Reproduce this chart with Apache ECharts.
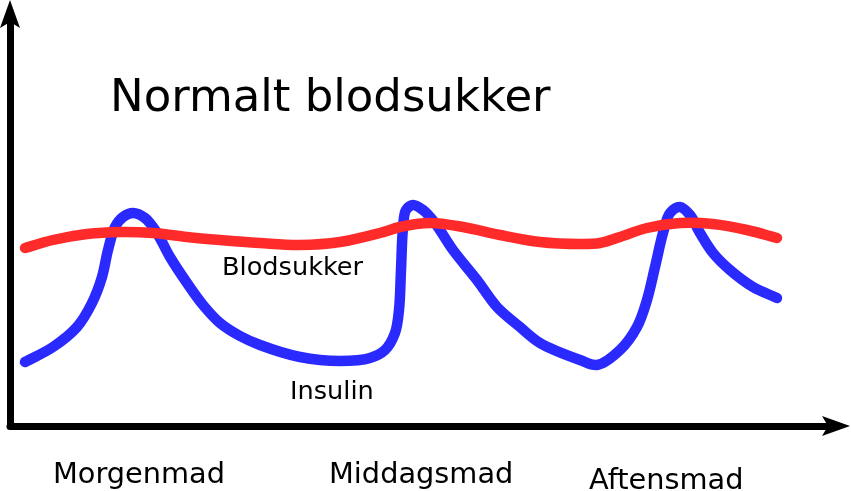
<!DOCTYPE html>
<html>
<head>
<meta charset="utf-8">
<script src="https://cdn.jsdelivr.net/npm/echarts@6/dist/echarts.min.js"></script>
<style>html,body{margin:0;padding:0;background:#fff}#c{width:851px;height:491px}</style>
</head>
<body>
<div id="c"></div>
<script>
var titleText = 'Normalt blodsukker';
var mealLabels = ['Morgenmad', 'Middagsmad', 'Aftensmad'];
var seriesNames = ['Blodsukker', 'Insulin'];

var bloodX = [1.5, 4.3, 7.7, 11.0, 14.3, 17.7, 21.0, 25.0, 29.0, 33.0, 37.0, 39.0, 42.0, 45.3, 49.0, 53.0, 57.0, 59.0, 61.0, 63.7, 67.0, 70.3, 73.7, 76.7];
var bloodY = [44.5, 46.5, 48.0, 48.5, 48.25, 47.25, 46.5, 45.75, 45.25, 46.0, 48.25, 49.75, 50.75, 49.75, 47.75, 46.0, 45.5, 45.75, 47.25, 49.5, 50.75, 50.5, 49.0, 47.0];

var insulinX = [1.5, 4.3, 6.7, 8.2, 9.2, 9.8, 10.5, 11.3, 12.3, 13.5, 14.7, 16.0, 17.7, 19.3, 21.0, 23.0, 25.0, 29.0, 33.0, 36.0, 37.5, 38.5, 38.9, 39.1, 39.3, 39.6, 40.3, 41.3, 42.5, 44.3, 46.7, 48.7, 51.0, 53.0, 57.0, 58.7, 61.0, 62.7, 63.7, 64.5, 65.3, 66.0, 67.0, 68.0, 69.0, 70.3, 72.0, 74.3, 76.7];
var insulinY = [16.0, 19.75, 24.75, 30.75, 37.25, 44.0, 49.75, 52.25, 53.25, 52.0, 48.25, 42.25, 35.75, 30.25, 25.75, 22.5, 20.25, 17.25, 16.25, 17.0, 19.0, 23.25, 29.0, 39.0, 49.5, 54.0, 55.25, 54.0, 50.75, 44.0, 36.5, 29.75, 24.75, 20.75, 16.5, 15.25, 19.0, 24.75, 31.5, 39.75, 48.25, 53.25, 54.75, 52.75, 48.25, 43.25, 39.0, 34.75, 32.0];

function pairs(xs, ys) { return xs.map(function (x, i) { return [x, ys[i]]; }); }

// centripetal Catmull-Rom through screen points -> cubic Bezier path
function splinePath(p) {
  var d = 'M' + p[0][0] + ',' + p[0][1];
  function dist(a, b) { return Math.pow(Math.hypot(a[0] - b[0], a[1] - b[1]), 0.5); }
  for (var i = 0; i < p.length - 1; i++) {
    var p0 = p[i - 1] || p[i], p1 = p[i], p2 = p[i + 1], p3 = p[i + 2] || p[i + 1];
    var d1 = dist(p0, p1), d2 = dist(p1, p2), d3 = dist(p2, p3);
    var c1 = p1.slice(), c2 = p2.slice();
    for (var k = 0; k < 2; k++) {
      if (d1 > 1e-6) c1[k] = (d1 * d1 * p2[k] - d2 * d2 * p0[k] + (2 * d1 * d1 + 3 * d1 * d2 + d2 * d2) * p1[k]) / (3 * d1 * (d1 + d2));
      else c1[k] = p1[k] + (p2[k] - p1[k]) / 3;
      if (d3 > 1e-6) c2[k] = (d3 * d3 * p1[k] - d2 * d2 * p3[k] + (2 * d3 * d3 + 3 * d3 * d2 + d2 * d2) * p2[k]) / (3 * d3 * (d3 + d2));
      else c2[k] = p2[k] - (p2[k] - p1[k]) / 3;
    }
    d += 'C' + c1[0] + ',' + c1[1] + ' ' + c2[0] + ',' + c2[1] + ' ' + p2[0] + ',' + p2[1];
  }
  return d;
}

function curveSeries(name, xs, ys, color, width, z) {
  return {
    name: name, type: 'custom', z: z, coordinateSystem: 'cartesian2d',
    data: pairs(xs, ys), encode: {x: 0, y: 1},
    renderItem: function (params, api) {
      if (params.dataIndex !== 0) return null;
      var pts = xs.map(function (x, i) { return api.coord([x, ys[i]]); });
      return {
        type: 'path',
        shape: {pathData: splinePath(pts)},
        style: {stroke: color, lineWidth: width, fill: null, lineCap: 'round', lineJoin: 'round'}
      };
    }
  };
}

var arrowPath = 'path://M0,0 L10,28 L0,22 L-10,28 Z';
var chart = echarts.init(document.getElementById('c'), null, {renderer: 'canvas'});
var font = 'DejaVu Sans';
chart.setOption({
  animation: false,
  grid: {left: 10, right: 15, top: 14, bottom: 65},
  xAxis: {
    type: 'value', min: 0, max: 82.6,
    splitLine: {show: false}, axisTick: {show: false}, axisLabel: {show: false},
    axisLine: {show: true, symbol: ['none', arrowPath], symbolSize: [26, 28], lineStyle: {color: '#000', width: 7}}
  },
  yAxis: {
    type: 'value', min: 0, max: 103,
    splitLine: {show: false}, axisTick: {show: false}, axisLabel: {show: false},
    axisLine: {show: true, symbol: ['none', arrowPath], symbolSize: [24, 28], lineStyle: {color: '#000', width: 7}}
  },
  series: [
    curveSeries(seriesNames[1], insulinX, insulinY, '#2a2aff', 10.5, 1),
    curveSeries(seriesNames[0], bloodX, bloodY, '#ff2a2a', 10.5, 2)
  ],
  graphic: [
    {type: 'text', left: 110, top: 77, style: {text: titleText, font: '45px "' + font + '"', fill: '#000'}},
    {type: 'text', left: 222, top: 255, style: {text: seriesNames[0], font: '25.6px "' + font + '"', fill: '#000'}},
    {type: 'text', left: 290, top: 379, style: {text: seriesNames[1], font: '25.6px "' + font + '"', fill: '#000'}},
    {type: 'text', left: 53, top: 461, style: {text: mealLabels[0], font: '28.8px "' + font + '"', fill: '#000'}},
    {type: 'text', left: 329, top: 461, style: {text: mealLabels[1], font: '28.8px "' + font + '"', fill: '#000'}},
    {type: 'text', left: 589, top: 467, style: {text: mealLabels[2], font: '28.8px "' + font + '"', fill: '#000'}}
  ]
});
</script>
</body>
</html>
